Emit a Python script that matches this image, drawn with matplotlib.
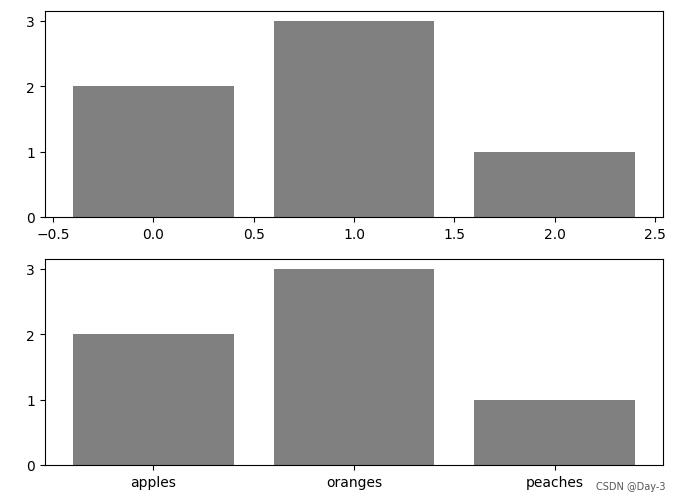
import matplotlib
matplotlib.use('Agg')
import matplotlib.pyplot as plt

fruits = ['apples', 'oranges', 'peaches']
counts = [2, 3, 1]
positions = [0, 1, 2]
y_ticks = [0, 1, 2, 3]

fig = plt.figure(figsize=(6.8, 5.02), dpi=100)

# top: plain numeric x positions
ax1 = fig.add_axes([0.066, 0.566, 0.909, 0.410])
ax1.bar(positions, counts, color='gray')
ax1.set_yticks(y_ticks)

# bottom: same bars with category labels
ax2 = fig.add_axes([0.066, 0.072, 0.909, 0.410])
ax2.bar(fruits, counts, color='gray')
ax2.set_yticks(y_ticks)

fig.text(0.978, 0.03, 'CSDN @Day-3', fontsize=7, color='#555555', ha='right', va='center')

fig.savefig('out.png', dpi=100)
